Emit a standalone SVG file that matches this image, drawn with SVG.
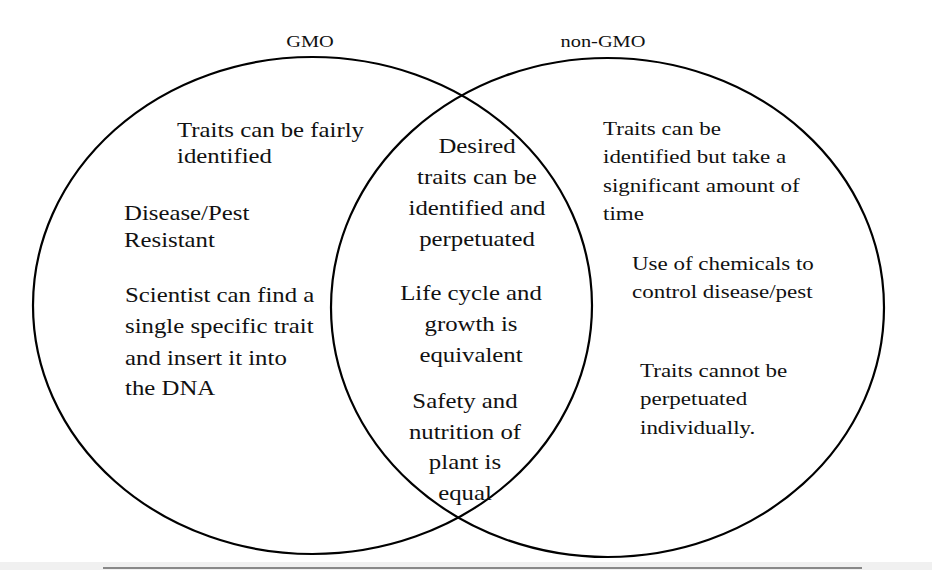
<svg xmlns="http://www.w3.org/2000/svg" width="932" height="570" viewBox="0 0 932 570">
<style>
.c{fill:none;stroke:#000;stroke-width:2.2}
.t{font-family:"Liberation Serif","Times New Roman",serif;font-size:20px;fill:#111}
.r{font-size:19px}
.h{font-family:"Liberation Serif","Times New Roman",serif;font-size:17px;fill:#111;text-anchor:middle}
.m{text-anchor:middle}
</style>
<rect x="0" y="0" width="932" height="570" fill="#fff"/>
<rect x="0" y="562" width="932" height="8" fill="#f0f0f0"/>
<line x1="103" y1="568" x2="862" y2="568" stroke="#888" stroke-width="2"/>
<g id="gmo">
<ellipse class="c" cx="312.5" cy="305.5" rx="279.5" ry="248.5"/>
<text class="h" transform="translate(310,47) scale(1.2,1)" x="0" y="0">GMO</text>
</g>
<g id="non-gmo">
<ellipse class="c" cx="607.5" cy="307.5" rx="276.5" ry="249.5"/>
<text class="h" transform="translate(603,47) scale(1.2,1)" x="0" y="0">non-GMO</text>
</g>
<g id="gmo-items">
<text class="t" transform="translate(177,137) scale(1.24,1)"><tspan x="0" y="0">Traits can be fairly</tspan><tspan x="0" y="26">identified</tspan></text>
<text class="t" transform="translate(124,220) scale(1.24,1)"><tspan x="0" y="0">Disease/Pest</tspan><tspan x="0" y="27">Resistant</tspan></text>
<text class="t" transform="translate(125,302) scale(1.24,1)"><tspan x="0" y="0">Scientist can find a</tspan><tspan x="0" y="31">single specific trait</tspan><tspan x="0" y="63">and insert it into</tspan><tspan x="0" y="93">the DNA</tspan></text>
</g>
<g id="shared-items">
<text class="t m" transform="translate(477,153) scale(1.24,1)"><tspan x="0" y="0">Desired</tspan><tspan x="0" y="31">traits can be</tspan><tspan x="0" y="62">identified and</tspan><tspan x="0" y="93">perpetuated</tspan></text>
<text class="t m" transform="translate(471,300) scale(1.24,1)"><tspan x="0" y="0">Life cycle and</tspan><tspan x="0" y="31">growth is</tspan><tspan x="0" y="62">equivalent</tspan></text>
<text class="t m" transform="translate(465,408) scale(1.24,1)"><tspan x="0" y="0">Safety and</tspan><tspan x="0" y="30.7">nutrition of</tspan><tspan x="0" y="61.4">plant is</tspan><tspan x="0" y="92.1">equal</tspan></text>
</g>
<g id="non-gmo-items">
<text class="t r" transform="translate(603,135) scale(1.21,1)"><tspan x="0" y="0">Traits can be</tspan><tspan x="0" y="28.3">identified but take a</tspan><tspan x="0" y="56.6">significant amount of</tspan><tspan x="0" y="85">time</tspan></text>
<text class="t r" transform="translate(632,270) scale(1.21,1)"><tspan x="0" y="0">Use of chemicals to</tspan><tspan x="0" y="28.3">control disease/pest</tspan></text>
<text class="t r" transform="translate(640,377) scale(1.21,1)"><tspan x="0" y="0">Traits cannot be</tspan><tspan x="0" y="28.3">perpetuated</tspan><tspan x="0" y="56.6">individually.</tspan></text>
</g>
</svg>
